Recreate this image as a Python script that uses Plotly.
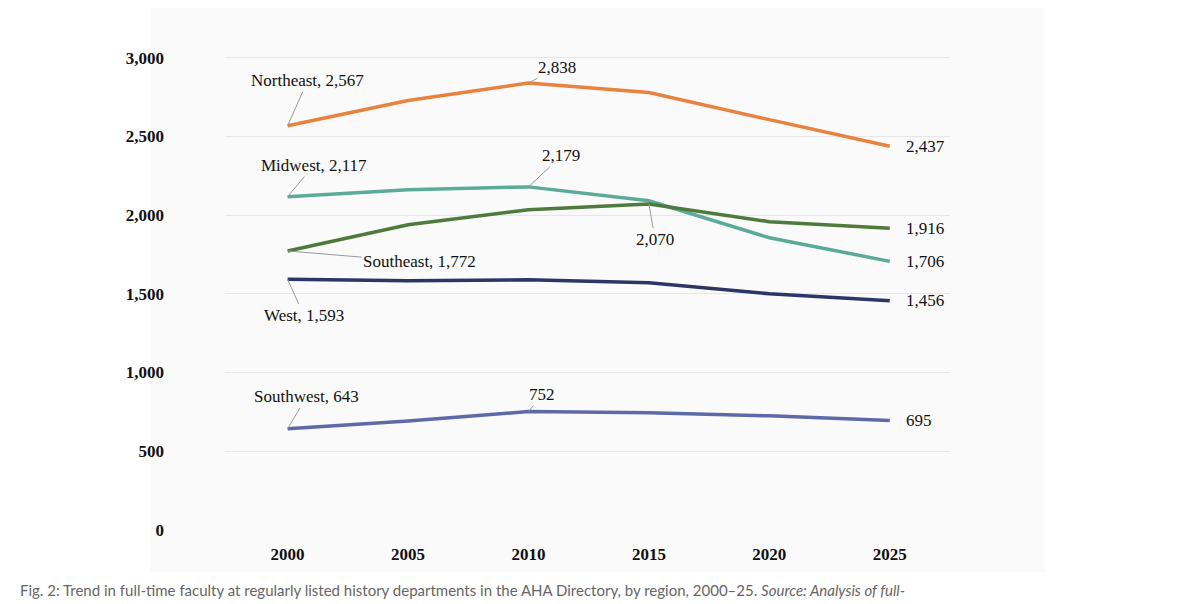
import plotly.graph_objects as go

years = [2000, 2005, 2010, 2015, 2020, 2025]
northeast = [2567, 2727, 2838, 2778, 2606, 2437]
midwest = [2117, 2161, 2179, 2091, 1856, 1706]
southeast = [1772, 1939, 2034, 2070, 1958, 1916]
west = [1593, 1583, 1589, 1570, 1500, 1456]
southwest = [643, 693, 752, 744, 725, 695]

series = [
    ("Northeast", northeast, "#E8823F"),
    ("Midwest", midwest, "#5BAA9A"),
    ("Southeast", southeast, "#4E7A3C"),
    ("West", west, "#2C3566"),
    ("Southwest", southwest, "#5E69A8"),
]

font_serif = "Liberation Serif, DejaVu Serif, serif"

fig = go.Figure()
for name, vals, color in series:
    fig.add_trace(go.Scatter(x=years, y=vals, mode="lines", name=name,
                             line=dict(color=color, width=3.5)))

# callouts with leader lines: (x, y, text, ax, ay)
callouts = [
    (2000, northeast[0], f"Northeast, {northeast[0]:,}", 20, -45),
    (2010, northeast[2], f"{northeast[2]:,}", 29, -16),
    (2000, midwest[0], f"Midwest, {midwest[0]:,}", 26, -31),
    (2010, midwest[2], f"{midwest[2]:,}", 33, -31),
    (2015, southeast[3], f"{southeast[3]:,}", 6, 35),
    (2000, southeast[0], f"Southeast, {southeast[0]:,}", 132, 11),
    (2000, west[0], f"West, {west[0]:,}", 16, 36),
    (2000, southwest[0], f"Southwest, {southwest[0]:,}", 19, -32),
    (2010, southwest[2], f"{southwest[2]:,}", 14, -17),
]
for x, y, t, ax, ay in callouts:
    fig.add_annotation(x=x, y=y, text=t, ax=ax, ay=ay, showarrow=True,
                       arrowhead=0, arrowwidth=1, arrowcolor="#999999",
                       font=dict(family=font_serif, size=17, color="#111111"))

for name, vals, color in series:
    fig.add_annotation(x=years[-1], y=vals[-1], text=f"{vals[-1]:,}", showarrow=False,
                       xanchor="left", xshift=14,
                       font=dict(family=font_serif, size=17, color="#111111"))

fig.add_annotation(
    text="Fig. 2: Trend in full-time faculty at regularly listed history departments in the AHA Directory, by region, 2000\u201325. <i>Source: Analysis of full-</i>",
    xref="paper", yref="paper", x=-0.2855, y=-0.124, xanchor="left", yanchor="middle",
    showarrow=False, font=dict(family="Lato, Open Sans, sans-serif", size=15, color="#666666"))

fig.add_shape(type="rect", xref="paper", yref="paper", x0=-0.103, x1=1.131, y0=-0.087, y1=1.093,
              fillcolor="#fafafa", line=dict(width=0), layer="below")

fig.update_layout(
    width=1192, height=596,
    margin=dict(l=217, r=250, t=37, b=74),
    paper_bgcolor="white", plot_bgcolor="rgba(0,0,0,0)",
    showlegend=False,
    xaxis=dict(range=[1997.4, 2027.5], tickvals=years, showgrid=False, zeroline=False,
               tickfont=dict(family=font_serif, size=17, color="#111111", weight="bold"),
               ticks="", ticklabelstandoff=12),
    yaxis=dict(range=[0, 3080], tickvals=[0, 500, 1000, 1500, 2000, 2500, 3000],
               tickformat=",", gridcolor="#e6e6e6", zeroline=False,
               tickfont=dict(family=font_serif, size=17, color="#111111", weight="bold"),
               ticklabelstandoff=60),
)

fig.write_html("out.html")
